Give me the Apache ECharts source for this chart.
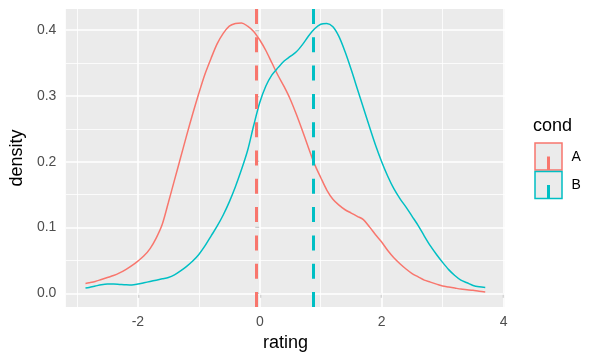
<!DOCTYPE html>
<html><head><meta charset="utf-8">
<script src="https://cdn.jsdelivr.net/npm/echarts@6/dist/echarts.min.js"></script>
<style>html,body{margin:0;padding:0;background:#fff}#c{width:600px;height:360px}</style>
</head><body><div id="c"></div>
<script>
const rating = [-2.86, -2.8, -2.7, -2.6, -2.5, -2.4, -2.3, -2.2, -2.1, -2.0, -1.9, -1.8, -1.7, -1.6, -1.5, -1.4, -1.3, -1.2, -1.1, -1.0, -0.9, -0.8, -0.7, -0.6, -0.5, -0.4, -0.3, -0.2, -0.1, 0.0, 0.1, 0.2, 0.3, 0.4, 0.5, 0.6, 0.7, 0.8, 0.9, 1.0, 1.1, 1.2, 1.3, 1.4, 1.5, 1.6, 1.7, 1.8, 1.9, 2.0, 2.1, 2.2, 2.3, 2.4, 2.5, 2.6, 2.7, 2.8, 2.9, 3.0, 3.1, 3.2, 3.3, 3.4, 3.5, 3.6, 3.7];
const densityA = [0.015, 0.016, 0.018, 0.021, 0.024, 0.027, 0.031, 0.036, 0.042, 0.049, 0.057, 0.068, 0.084, 0.105, 0.138, 0.172, 0.206, 0.240, 0.273, 0.304, 0.333, 0.357, 0.379, 0.395, 0.406, 0.410, 0.411, 0.406, 0.398, 0.385, 0.369, 0.350, 0.331, 0.314, 0.295, 0.272, 0.247, 0.221, 0.196, 0.176, 0.157, 0.143, 0.134, 0.127, 0.122, 0.117, 0.112, 0.101, 0.089, 0.078, 0.065, 0.054, 0.045, 0.037, 0.030, 0.025, 0.020, 0.017, 0.014, 0.011, 0.0095, 0.008, 0.0065, 0.0055, 0.0045, 0.003, 0.002];
const densityB = [0.008, 0.009, 0.011, 0.013, 0.014, 0.014, 0.0135, 0.013, 0.0127, 0.014, 0.016, 0.018, 0.020, 0.022, 0.024, 0.028, 0.034, 0.041, 0.049, 0.059, 0.072, 0.087, 0.102, 0.119, 0.139, 0.162, 0.188, 0.217, 0.255, 0.290, 0.315, 0.332, 0.343, 0.353, 0.360, 0.367, 0.378, 0.391, 0.402, 0.409, 0.410, 0.405, 0.390, 0.367, 0.340, 0.311, 0.282, 0.253, 0.225, 0.200, 0.178, 0.159, 0.144, 0.131, 0.117, 0.103, 0.087, 0.072, 0.059, 0.047, 0.036, 0.027, 0.020, 0.016, 0.012, 0.010, 0.009];
const meanA = -0.06;
const meanB = 0.87;
const condNames = ['A', 'B'];
const xTicks = [-2, 0, 2, 4];
const xMinor = [-3, -1, 1, 3];
const yTicks = [0, 0.1, 0.2, 0.3, 0.4];
const yMinor = [0.05, 0.15, 0.25, 0.35];

const colors = ['#F8766D', '#00BFC4'];
const FONT = '"Liberation Sans", Arial, Helvetica, sans-serif';
const zip = (xs, ys) => xs.map((x, i) => [x, ys[i]]);

const gridLines = [];
xMinor.forEach(v => gridLines.push({xAxis: v, lineStyle: {color: '#fff', width: 0.8, type: 'solid'}}));
yMinor.forEach(v => gridLines.push({yAxis: v, lineStyle: {color: '#fff', width: 0.8, type: 'solid'}}));
xTicks.forEach(v => gridLines.push({xAxis: v, lineStyle: {color: '#fff', width: 1.6, type: 'solid'}}));
yTicks.forEach(v => gridLines.push({yAxis: v, lineStyle: {color: '#fff', width: 1.6, type: 'solid'}}));

function meanLine(v, c) {
  return {
    silent: true, symbol: 'none', z: 5,
    label: {show: false},
    lineStyle: {color: c, width: 3, type: [15, 13.3], opacity: 1},
    data: [{xAxis: v}]
  };
}

const graphic = [{type: 'text', x: 533, y: 126, style: {text: 'cond', fontSize: 18, fontFamily: FONT, fill: '#000', verticalAlign: 'middle'}}];
condNames.forEach((n, i) => {
  const y0 = 143 + i * 28.5;
  graphic.push({type: 'rect', shape: {x: 535, y: y0, width: 27, height: 27}, style: {fill: '#EBEBEB', stroke: colors[i], lineWidth: 1.5}});
  graphic.push({type: 'line', shape: {x1: 548.5, y1: y0 + 13.5, x2: 548.5, y2: y0 + 27}, style: {stroke: colors[i], lineWidth: 3}});
  graphic.push({type: 'text', x: 571.5, y: y0 + 14, style: {text: n, fontSize: 14, fontFamily: FONT, fill: '#000', verticalAlign: 'middle'}});
});

const chart = echarts.init(document.getElementById('c'), null, {renderer: 'canvas'});
chart.setOption({
  animation: false,
  backgroundColor: '#fff',
  grid: {left: 60, top: 9, right: 95, bottom: 53, show: true, backgroundColor: '#EBEBEB', borderWidth: 0, containLabel: false},
  xAxis: {
    type: 'value', min: -3.182, max: 4.024,
    name: 'rating', nameLocation: 'middle', nameGap: 25,
    nameTextStyle: {fontSize: 18, fontFamily: FONT, color: '#000'},
    axisLine: {show: false},
    axisTick: {show: true, length: 4.5, lineStyle: {color: '#333', width: 1.1}, customValues: xTicks},
    axisLabel: {customValues: xTicks, fontSize: 14, fontFamily: FONT, color: '#4D4D4D', margin: 8, formatter: v => String(v)},
    splitLine: {show: false}
  },
  yAxis: {
    type: 'value', min: -0.0208, max: 0.4321,
    name: 'density', nameLocation: 'middle', nameGap: 31, nameRotate: 90,
    nameTextStyle: {fontSize: 18, fontFamily: FONT, color: '#000'},
    axisLine: {show: false},
    axisTick: {show: true, length: 4.5, lineStyle: {color: '#333', width: 1.1}, customValues: yTicks},
    axisLabel: {customValues: yTicks, fontSize: 14, fontFamily: FONT, color: '#4D4D4D', margin: 9.5, formatter: v => v.toFixed(1)},
    splitLine: {show: false}
  },
  graphic: graphic,
  series: [
    {type: 'line', name: 'grid', data: [], z: 1, silent: true,
     markLine: {silent: true, symbol: 'none', z: 1, label: {show: false}, data: gridLines}},
    {type: 'line', name: condNames[0], data: zip(rating, densityA), smooth: 0.3, showSymbol: false, z: 3,
     lineStyle: {color: colors[0], width: 1.5}, itemStyle: {color: colors[0]},
     markLine: meanLine(meanA, colors[0])},
    {type: 'line', name: condNames[1], data: zip(rating, densityB), smooth: 0.3, showSymbol: false, z: 3,
     lineStyle: {color: colors[1], width: 1.5}, itemStyle: {color: colors[1]},
     markLine: meanLine(meanB, colors[1])}
  ]
});
</script>
</body></html>
